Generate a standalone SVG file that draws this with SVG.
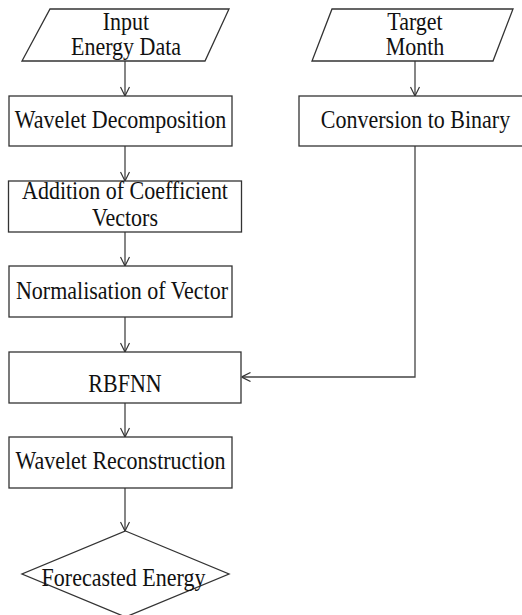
<svg xmlns="http://www.w3.org/2000/svg" width="522" height="615" viewBox="0 0 522 615">
<style>
.s{fill:#fff;stroke:#333;stroke-width:1.3}
.t{font-family:"Liberation Serif","Times New Roman",serif;font-size:22px;fill:#111;text-anchor:middle}
.c{fill:none;stroke:#444;stroke-width:1.3}
</style>
<defs>
<marker id="a" viewBox="0 0 10 10" refX="10" refY="5" markerWidth="10" markerHeight="10" markerUnits="userSpaceOnUse" orient="auto">
<path d="M1,0.5 L10,5 L1,9.5" fill="none" stroke="#333" stroke-width="1.2"/>
</marker>
</defs>
<rect width="522" height="615" fill="#fff"/>
<g id="connectors">
<line class="c" x1="125" y1="61" x2="125" y2="96" marker-end="url(#a)"/>
<line class="c" x1="125" y1="146" x2="125" y2="181" marker-end="url(#a)"/>
<line class="c" x1="125" y1="232" x2="125" y2="266" marker-end="url(#a)"/>
<line class="c" x1="125" y1="317" x2="125" y2="352" marker-end="url(#a)"/>
<line class="c" x1="125" y1="403" x2="125" y2="437" marker-end="url(#a)"/>
<line class="c" x1="125" y1="488" x2="125" y2="531" marker-end="url(#a)"/>
<line class="c" x1="415" y1="61" x2="415" y2="96" marker-end="url(#a)"/>
<polyline class="c" points="415,146 415,377 241.5,377" marker-end="url(#a)"/>
</g>
<g id="input">
<polygon class="s" points="50,9 229,9 205,61 22,61"/>
<text class="t" transform="translate(126,30) scale(1,1.15)">Input</text>
<text class="t" transform="translate(126,55) scale(1,1.15)">Energy Data</text>
</g>
<g id="target">
<polygon class="s" points="332,9 513,9 493,61 312,61"/>
<text class="t" transform="translate(415,30) scale(1,1.15)">Target</text>
<text class="t" transform="translate(415,55) scale(1,1.15)">Month</text>
</g>
<g id="decomp">
<rect class="s" x="9" y="96" width="223" height="50"/>
<text class="t" transform="translate(120.5,128) scale(1,1.15)">Wavelet Decomposition</text>
</g>
<g id="binary">
<rect class="s" x="299" y="96" width="233" height="50"/>
<text class="t" transform="translate(415.5,128) scale(1,1.15)">Conversion to Binary</text>
</g>
<g id="addition">
<rect class="s" x="8.5" y="181" width="233" height="51"/>
<text class="t" transform="translate(125,198.5) scale(1,1.15)">Addition of Coefficient</text>
<text class="t" transform="translate(125,226) scale(1,1.15)">Vectors</text>
</g>
<g id="normal">
<rect class="s" x="9" y="266" width="223" height="51"/>
<text class="t" transform="translate(122,298.5) scale(1,1.15)">Normalisation of Vector</text>
</g>
<g id="rbfnn">
<rect class="s" x="9" y="352" width="232" height="51"/>
<text class="t" transform="translate(125,392) scale(1,1.15)">RBFNN</text>
</g>
<g id="recon">
<rect class="s" x="9" y="437" width="223" height="51"/>
<text class="t" transform="translate(120.5,469) scale(1,1.15)">Wavelet Reconstruction</text>
</g>
<g id="forecast">
<polygon class="s" points="125.5,531 229,574 125.5,617 22,574"/>
<text class="t" transform="translate(123.5,586) scale(1,1.15)">Forecasted Energy</text>
</g>
</svg>
